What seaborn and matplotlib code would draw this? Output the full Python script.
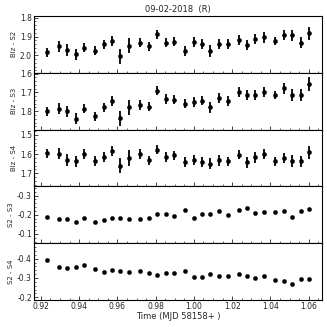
import numpy as np
import pandas as pd
import seaborn as sns
import matplotlib
matplotlib.use("Agg")
import matplotlib.pyplot as plt
from matplotlib.ticker import MultipleLocator

### Data
time = [0.9234, 0.9293, 0.9337, 0.9382, 0.9426, 0.9485, 0.9528, 0.9572, 0.9616, 0.9661,
        0.9718, 0.9764, 0.9807, 0.9852, 0.9896, 0.9955, 0.9999, 1.0042, 1.0086, 1.0131,
        1.0176, 1.0234, 1.0277, 1.0322, 1.0366, 1.0425, 1.0470, 1.0514, 1.0559, 1.0603]

blz_s2 = [1.983, 1.952, 1.972, 1.995, 1.960, 1.975, 1.942, 1.925, 2.005, 1.949,
          1.933, 1.952, 1.888, 1.933, 1.928, 1.977, 1.928, 1.939, 1.977, 1.939,
          1.939, 1.918, 1.946, 1.914, 1.905, 1.925, 1.893, 1.893, 1.932, 1.882]
blz_s2_err = [0.024, 0.030, 0.030, 0.028, 0.025, 0.025, 0.025, 0.027, 0.040, 0.040,
              0.025, 0.024, 0.025, 0.025, 0.025, 0.025, 0.027, 0.025, 0.030, 0.027,
              0.025, 0.025, 0.027, 0.027, 0.027, 0.022, 0.027, 0.030, 0.030, 0.035]

blz_s3 = [1.800, 1.786, 1.800, 1.839, 1.786, 1.827, 1.780, 1.745, 1.836, 1.779,
          1.766, 1.775, 1.691, 1.734, 1.738, 1.759, 1.752, 1.743, 1.780, 1.729,
          1.746, 1.698, 1.713, 1.713, 1.698, 1.713, 1.679, 1.713, 1.713, 1.655]
blz_s3_err = [0.024, 0.030, 0.030, 0.028, 0.025, 0.025, 0.025, 0.027, 0.040, 0.040,
              0.025, 0.024, 0.025, 0.025, 0.025, 0.025, 0.027, 0.025, 0.030, 0.027,
              0.025, 0.025, 0.027, 0.027, 0.027, 0.022, 0.027, 0.030, 0.030, 0.035]

blz_s4 = [1.595, 1.598, 1.630, 1.638, 1.598, 1.636, 1.616, 1.583, 1.661, 1.621,
          1.598, 1.633, 1.577, 1.616, 1.607, 1.642, 1.630, 1.640, 1.650, 1.633,
          1.638, 1.603, 1.643, 1.617, 1.600, 1.638, 1.621, 1.635, 1.638, 1.591]
blz_s4_err = [0.024, 0.030, 0.030, 0.028, 0.025, 0.025, 0.025, 0.027, 0.040, 0.040,
              0.025, 0.024, 0.025, 0.025, 0.025, 0.025, 0.027, 0.025, 0.030, 0.027,
              0.025, 0.025, 0.027, 0.027, 0.027, 0.022, 0.027, 0.030, 0.030, 0.035]

s2_s3 = [-0.190, -0.176, -0.179, -0.162, -0.183, -0.164, -0.172, -0.183, -0.183, -0.178,
         -0.178, -0.184, -0.203, -0.203, -0.193, -0.222, -0.184, -0.202, -0.202, -0.219,
         -0.198, -0.222, -0.236, -0.207, -0.212, -0.216, -0.221, -0.188, -0.217, -0.228]

s2_s4 = [-0.395, -0.356, -0.350, -0.359, -0.366, -0.345, -0.331, -0.343, -0.335, -0.331,
         -0.338, -0.325, -0.318, -0.325, -0.325, -0.335, -0.305, -0.305, -0.323, -0.313,
         -0.310, -0.322, -0.310, -0.300, -0.310, -0.290, -0.282, -0.270, -0.295, -0.295]
diff_err = [0.004] * 30

labels = ['Blz - S2', 'Blz - S3', 'Blz - S4', 'S2 - S3', 'S2 - S4']
values = [blz_s2, blz_s3, blz_s4, s2_s3, s2_s4]
errors = [blz_s2_err, blz_s3_err, blz_s4_err, diff_err, diff_err]
ylims = [(2.093, 1.791), (1.897, 1.596), (1.768, 1.472), (-0.052, -0.348), (-0.186, -0.482)]

### Style
sns.set_style("ticks")
plt.rcParams['font.family'] = ['DejaVu Sans']
plt.rcParams['xtick.direction'] = 'in'
plt.rcParams['ytick.direction'] = 'in'

fig, axes = plt.subplots(5, 1, sharex=True, figsize=(3.27, 3.27), dpi=100)
fig.subplots_adjust(left=0.104, right=0.986, top=0.951, bottom=0.083, hspace=0)

for ax, lab, val, err, yl in zip(axes, labels, values, errors, ylims):
    df = pd.DataFrame({'t': time, 'v': val, 'e': err})
    ax.errorbar(df['t'], df['v'], yerr=df['e'], fmt='none', ecolor='black',
                elinewidth=1.3, capsize=0, zorder=2)
    sns.scatterplot(data=df, x='t', y='v', ax=ax, color='black', s=9,
                    edgecolor='black', linewidth=0.3, zorder=3, legend=False)
    ax.set_ylim(*yl)
    ax.set_xlim(0.9164, 1.0672)
    ax.set_ylabel(lab, fontsize=5, labelpad=2)
    ax.set_xlabel('')
    ax.yaxis.set_major_locator(MultipleLocator(0.1))
    ax.yaxis.set_minor_locator(MultipleLocator(0.02))
    ax.xaxis.set_major_locator(MultipleLocator(0.02))
    ax.xaxis.set_minor_locator(MultipleLocator(0.005))
    ax.tick_params(which='major', length=3, width=0.6, labelsize=5.5, pad=1.5)
    ax.tick_params(which='minor', length=1.5, width=0.5)
    ax.tick_params(right=False, top=False, which='both')
    for sp in ax.spines.values():
        sp.set_linewidth(0.8)
        sp.set_color('black')
    ax.yaxis.set_major_formatter(matplotlib.ticker.FormatStrFormatter('%.1f'))

axes[-1].xaxis.set_major_formatter(matplotlib.ticker.FormatStrFormatter('%.2f'))
axes[-1].set_xlabel('Time (MJD 58158+ )', fontsize=6, labelpad=1)
axes[0].set_title('09-02-2018  (R)', fontsize=6, pad=3)

plt.savefig('out.png', dpi=100)
